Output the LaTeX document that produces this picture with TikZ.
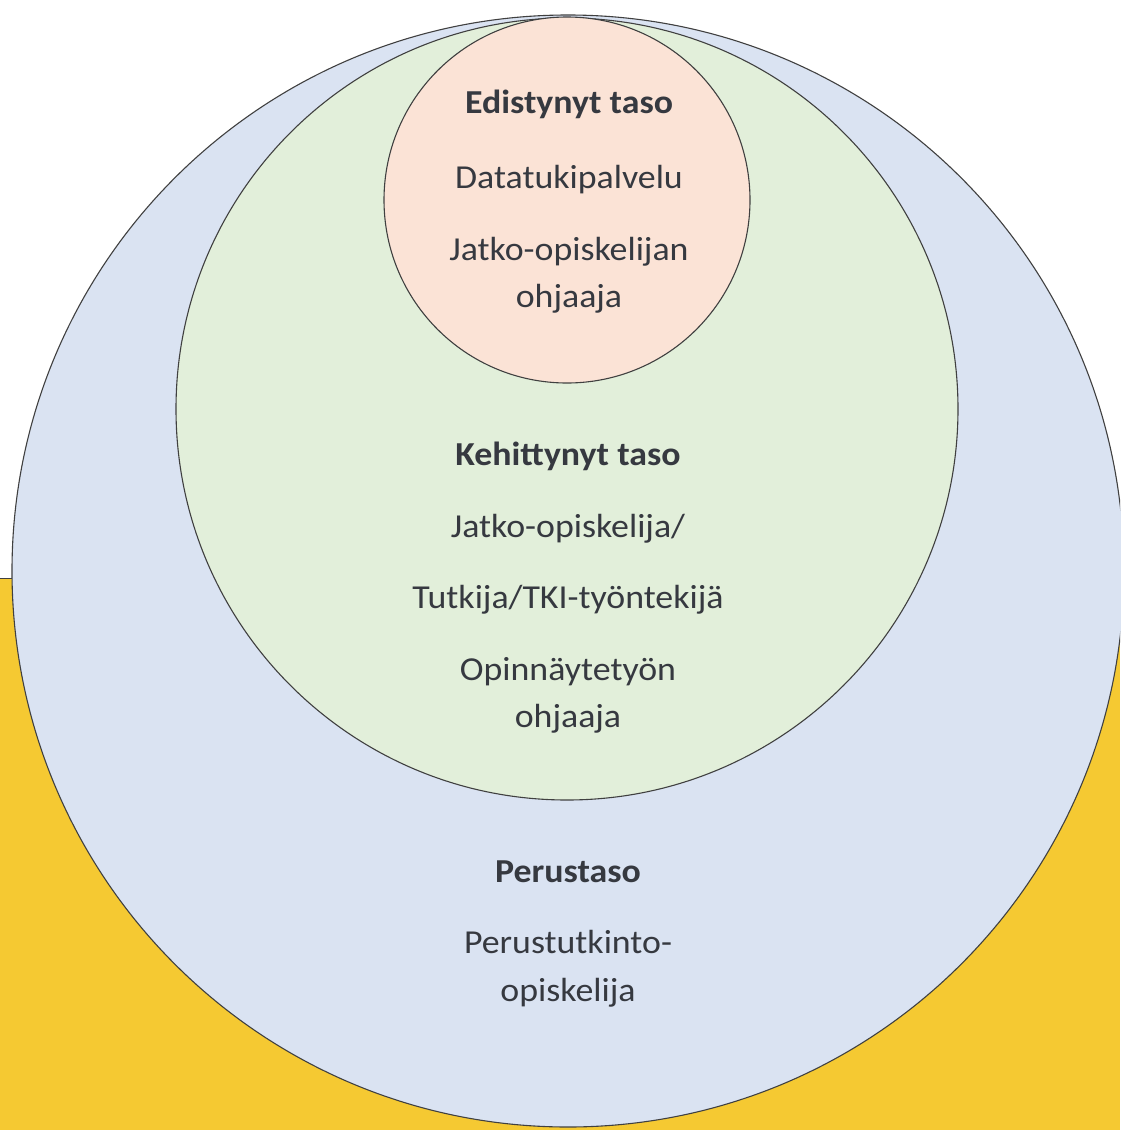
\documentclass[tikz,border=0pt]{standalone}
\usepackage{fontspec}
\setmainfont{Carlito}[FakeStretch=1.07]
\definecolor{yellowbg}{HTML}{F5C932}
\definecolor{bluefill}{HTML}{DAE3F2}
\definecolor{greenfill}{HTML}{E2EFDA}
\definecolor{pinkfill}{HTML}{FBE3D6}
\definecolor{ringline}{HTML}{404040}
\definecolor{txt}{HTML}{363940}
\begin{document}
\begin{tikzpicture}[x=1pt,y=-1pt,
  ring/.style={draw=ringline,line width=1.1pt},
  lbl/.style={anchor=base,text=txt,inner sep=0pt,font=\fontsize{33.5}{40}\selectfont},
  head/.style={lbl,font=\fontsize{33.5}{40}\selectfont\bfseries}]
\useasboundingbox (0,0) rectangle (1120,1130);
\fill[white] (0,0) rectangle (1120,1130);
% yellow background
\fill[yellowbg] (0,578) rectangle (1120,1130);
\draw[ringline,line width=1pt] (0,578) -- (40,578);
% circles
\fill[bluefill] (568,571) circle (556);
\begin{scope}
\clip (0,0) rectangle (1120,1130);
\draw[ring] (568,571) circle (556);
\end{scope}
\draw[ring,fill=greenfill] (567,409) circle (391);
\draw[ring,fill=pinkfill] (567,200) circle (183);
% texts
\node[head] (adv) at (569,113) {Edistynyt taso};
\node[lbl] (adv1) at (569,188) {Datatukipalvelu};
\node[lbl] (adv2) at (569,260) {Jatko-opiskelijan};
\node[lbl] (adv3) at (569,307) {ohjaaja};
\node[head] (mid) at (568,465) {Kehittynyt taso};
\node[lbl] (mid1) at (568,537) {Jatko-opiskelija/};
\node[lbl] (mid2) at (568,608) {Tutkija/TKI-työntekijä};
\node[lbl] (mid3) at (568,680) {Opinnäytetyön};
\node[lbl] (mid4) at (568,727) {ohjaaja};
\node[head] (base) at (568,882) {Perustaso};
\node[lbl] (base1) at (568,953) {Perustutkinto-};
\node[lbl] (base2) at (568,1001) {opiskelija};
\end{tikzpicture}
\end{document}
